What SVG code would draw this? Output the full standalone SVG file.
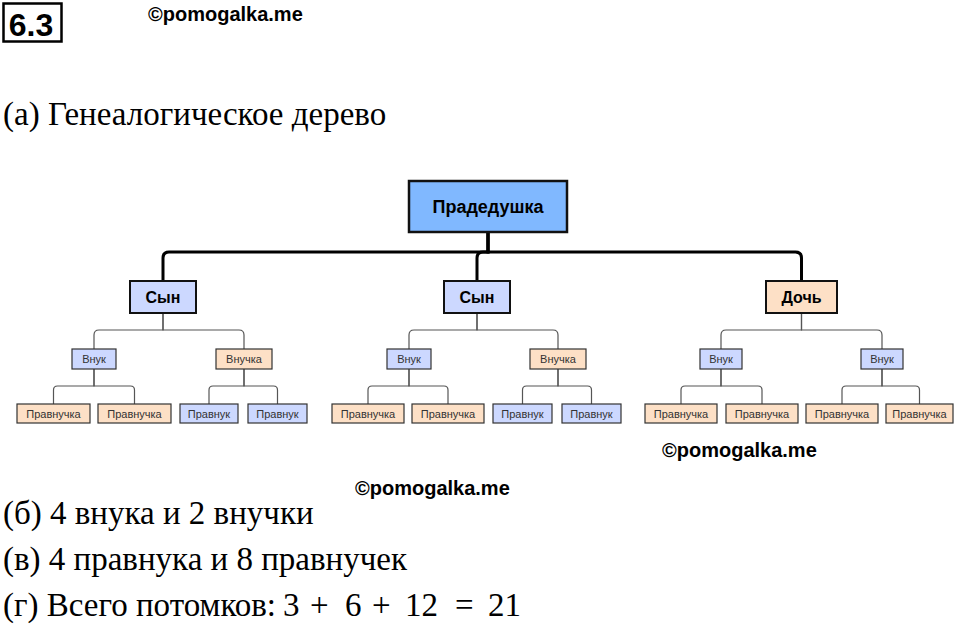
<svg xmlns="http://www.w3.org/2000/svg" width="960" height="624" viewBox="0 0 960 624">
<style>
.bg{fill:#ffffff}
.serif{font-family:"Liberation Serif","DejaVu Serif","Times New Roman",serif;font-size:33px;fill:#000}
.wm{font-family:"Liberation Sans",Arial,sans-serif;font-weight:bold;font-size:20px;fill:#000}
.root rect{fill:#80b8ff;stroke:#111;stroke-width:2.5}
.root text{font-family:"Liberation Sans",Arial,sans-serif;font-weight:bold;font-size:18px;fill:#000;text-anchor:middle}
.l1 rect{stroke:#111;stroke-width:2}
.l1 text{font-family:"Liberation Sans",Arial,sans-serif;font-weight:bold;font-size:16px;fill:#000;text-anchor:middle}
.sm rect{stroke:#333;stroke-width:1.2}
.sm text{font-family:"Liberation Sans",Arial,sans-serif;font-size:11px;fill:#333;text-anchor:middle}
.m rect{fill:#ccd8ff}
.f rect{fill:#fde0c6}
.thick{fill:none;stroke:#000;stroke-width:3}
.thin{fill:none;stroke:#555;stroke-width:1.2}
</style>
<rect class="bg" x="0" y="0" width="960" height="624"/>
<g id="header">
<rect x="3.5" y="3.5" width="58" height="38" fill="none" stroke="#000" stroke-width="2.5"/>
<text x="31" y="36" font-family="Liberation Sans,Arial,sans-serif" font-size="32" font-weight="bold" text-anchor="middle">6.3</text>
<text class="wm" x="148" y="21">©pomogalka.me</text>
</g>
<text class="serif" x="3" y="125">(а) Генеалогическое дерево</text>
<g id="connectors">
<path class="thick" d="M488,232 V252 H169 Q163,252 163,258 V281"/>
<path class="thick" d="M488,232 V252 H483 Q477,252 477,258 V281"/>
<path class="thick" d="M488,232 V252 H795.5 Q801.5,252 801.5,258 V281"/>
<path class="thin" d="M163,313 V330 H99 Q94,330 94,335 V349"/>
<path class="thin" d="M163,313 V330 H239 Q244,330 244,335 V349"/>
<path class="thin" d="M477,313 V330 H414 Q409,330 409,335 V349"/>
<path class="thin" d="M477,313 V330 H553 Q558,330 558,335 V349"/>
<path class="thin" d="M801.5,313 V330 H726 Q721,330 721,335 V349"/>
<path class="thin" d="M801.5,313 V330 H877 Q882,330 882,335 V349"/>
<path class="thin" d="M94,369 V386 H57.5 Q53.5,386 53.5,390 V404"/>
<path class="thin" d="M94,369 V386 H130.5 Q134.5,386 134.5,390 V404"/>
<path class="thin" d="M244,369 V386 H213 Q209,386 209,390 V404"/>
<path class="thin" d="M244,369 V386 H273.5 Q277.5,386 277.5,390 V404"/>
<path class="thin" d="M409,369 V386 H372 Q368,386 368,390 V404"/>
<path class="thin" d="M409,369 V386 H444 Q448,386 448,390 V404"/>
<path class="thin" d="M558,369 V386 H526.5 Q522.5,386 522.5,390 V404"/>
<path class="thin" d="M558,369 V386 H587.5 Q591.5,386 591.5,390 V404"/>
<path class="thin" d="M721,369 V386 H685 Q681,386 681,390 V404"/>
<path class="thin" d="M721,369 V386 H758 Q762,386 762,390 V404"/>
<path class="thin" d="M882,369 V386 H846 Q842,386 842,390 V404"/>
<path class="thin" d="M882,369 V386 H915.5 Q919.5,386 919.5,390 V404"/>
</g>
<g id="n-root" class="root"><rect x="409" y="181" width="158" height="51"/><text x="488" y="213">Прадедушка</text></g>
<g id="n-son1" class="l1 m"><rect x="130" y="281" width="66" height="32"/><text x="163" y="303">Сын</text></g>
<g id="n-son2" class="l1 m"><rect x="444" y="281" width="66" height="32"/><text x="477" y="303">Сын</text></g>
<g id="n-daughter" class="l1 f"><rect x="766" y="281" width="71" height="32"/><text x="801.5" y="303">Дочь</text></g>
<g id="n-g1" class="sm m"><rect x="72" y="349" width="44" height="20"/><text x="94" y="363">Внук</text></g>
<g id="n-g2" class="sm f"><rect x="216" y="349" width="56" height="20"/><text x="244" y="363">Внучка</text></g>
<g id="n-g3" class="sm m"><rect x="387" y="349" width="44" height="20"/><text x="409" y="363">Внук</text></g>
<g id="n-g4" class="sm f"><rect x="530" y="349" width="56" height="20"/><text x="558" y="363">Внучка</text></g>
<g id="n-g5" class="sm m"><rect x="700" y="349" width="42" height="20"/><text x="721" y="363">Внук</text></g>
<g id="n-g6" class="sm m"><rect x="861" y="349" width="42" height="20"/><text x="882" y="363">Внук</text></g>
<g id="n-gg1" class="sm f"><rect x="17" y="404" width="73" height="19"/><text x="53.5" y="417.5">Правнучка</text></g>
<g id="n-gg2" class="sm f"><rect x="98" y="404" width="73" height="19"/><text x="134.5" y="417.5">Правнучка</text></g>
<g id="n-gg3" class="sm m"><rect x="180" y="404" width="58" height="19"/><text x="209" y="417.5">Правнук</text></g>
<g id="n-gg4" class="sm m"><rect x="248" y="404" width="59" height="19"/><text x="277.5" y="417.5">Правнук</text></g>
<g id="n-gg5" class="sm f"><rect x="332" y="404" width="72" height="19"/><text x="368" y="417.5">Правнучка</text></g>
<g id="n-gg6" class="sm f"><rect x="412" y="404" width="72" height="19"/><text x="448" y="417.5">Правнучка</text></g>
<g id="n-gg7" class="sm m"><rect x="493" y="404" width="59" height="19"/><text x="522.5" y="417.5">Правнук</text></g>
<g id="n-gg8" class="sm m"><rect x="562" y="404" width="59" height="19"/><text x="591.5" y="417.5">Правнук</text></g>
<g id="n-gg9" class="sm f"><rect x="645" y="404" width="72" height="19"/><text x="681" y="417.5">Правнучка</text></g>
<g id="n-gg10" class="sm f"><rect x="726" y="404" width="72" height="19"/><text x="762" y="417.5">Правнучка</text></g>
<g id="n-gg11" class="sm f"><rect x="806" y="404" width="72" height="19"/><text x="842" y="417.5">Правнучка</text></g>
<g id="n-gg12" class="sm f"><rect x="886" y="404" width="67" height="19"/><text x="919.5" y="417.5">Правнучка</text></g>
<text class="wm" x="662" y="457">©pomogalka.me</text>
<text class="wm" x="355" y="495">©pomogalka.me</text>
<text class="serif" x="3" y="524">(б) 4 внука и 2 внучки</text>
<text class="serif" x="3" y="570">(в) 4 правнука и 8 правнучек</text>
<text class="serif" x="3" y="616">(г) Всего потомков: <tspan x="283">3</tspan><tspan x="310">+</tspan><tspan x="345">6</tspan><tspan x="372">+</tspan><tspan x="405">12</tspan><tspan x="455">=</tspan><tspan x="488">21</tspan></text>
</svg>
